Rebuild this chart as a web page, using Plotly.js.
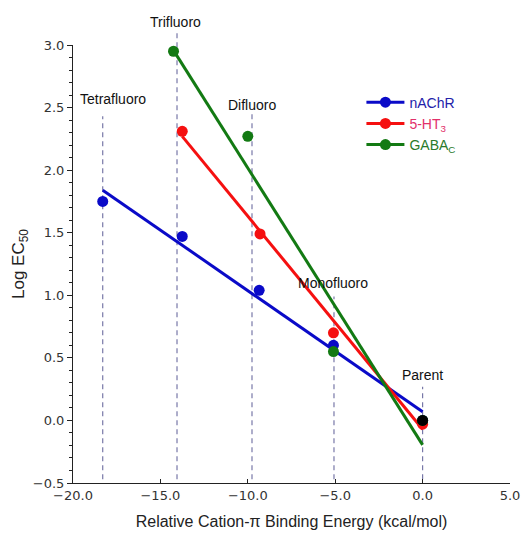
<!DOCTYPE html>
<html>
<head>
<meta charset="utf-8">
<script src="https://cdn.plot.ly/plotly-3.0.1.min.js"></script>
<style>html,body{margin:0;padding:0;background:#fff;}#chart{width:524px;height:535px;}</style>
</head>
<body>
<div id="chart"></div>
<script>
// ---- data ----
const nachrX = [-18.3, -13.75, -9.35, -5.1, 0];
const nachrY = [1.75, 1.47, 1.04, 0.60, 0.0];
const ht3X = [-13.75, -9.3, -5.1, 0];
const ht3Y = [2.31, 1.49, 0.70, -0.03];
const gabaX = [-14.25, -10.0, -5.1, 0];
const gabaY = [2.95, 2.27, 0.55, 0.0];
const parentX = [0];
const parentY = [0];

const nachrFitX = [-18.3, 0];
const nachrFitY = [1.84, 0.07];
const ht3FitX = [-13.75, 0];
const ht3FitY = [2.27, -0.07];
const gabaFitX = [-14.15, 0];
const gabaFitY = [2.935, -0.195];

const guideNames = ['Tetrafluoro', 'Trifluoro', 'Difluoro', 'Monofluoro', 'Parent'];
const guideX = [-18.3, -14.05, -9.76, -5.07, 0];
const guideTop = [2.43, 3.12, 2.46, 0.99, 0.27];
const guideBottom = -0.47;
const labelX = [-17.73, -14.16, -9.78, -5.1, 0.02];
const labelY = [2.57, 3.185, 2.52, 1.10, 0.363];

const xRange = [-20, 5];
const yRange = [-0.5, 3.0];

const BLUE = '#0a0ac8', RED = '#f51010', GREEN = '#137a13';
const FONT = 'Liberation Sans, Arial, sans-serif';

function toPaper(v) { return (v - yRange[0]) / (yRange[1] - yRange[0]); }

const traces = [];
function fit(x, y, c) {
  traces.push({x: x, y: y, mode: 'lines', line: {color: c, width: 3}, showlegend: false, hoverinfo: 'skip'});
}
function pts(x, y, c) {
  traces.push({x: x, y: y, mode: 'markers', marker: {color: c, size: 11}, showlegend: false, cliponaxis: false});
}
function leg(name, c) {
  traces.push({x: [null], y: [null], mode: 'lines+markers', name: name,
    line: {color: c, width: 3}, marker: {color: c, size: 11}});
}
fit(nachrFitX, nachrFitY, BLUE);
fit(ht3FitX, ht3FitY, RED);
fit(gabaFitX, gabaFitY, GREEN);
pts(nachrX, nachrY, BLUE);
pts(ht3X, ht3Y, RED);
pts(gabaX, gabaY, GREEN);
pts(parentX, parentY, '#000000');
leg('<span style="color:#2222aa">nAChR</span>', BLUE);
leg('<span style="color:#e2306a">5-HT<sub>3</sub></span>', RED);
leg('<span style="color:#2a7a2a">GABA<sub>C</sub></span>', GREEN);

const shapes = guideX.map((gx, i) => ({
  type: 'line', xref: 'x', yref: 'paper', x0: gx, x1: gx,
  y0: toPaper(guideBottom), y1: toPaper(guideTop[i]),
  line: {color: '#7878a8', width: 1.2, dash: '5px,4px'}, layer: 'below'
}));

const annotations = guideNames.map((n, i) => ({
  x: labelX[i], y: toPaper(labelY[i]), xref: 'x', yref: 'paper', text: n, showarrow: false,
  xanchor: 'center', yanchor: 'middle', font: {family: FONT, size: 14, color: '#111'}
}));

const layout = {
  width: 524, height: 535,
  margin: {l: 73, r: 14, t: 45, b: 52},
  paper_bgcolor: '#fff', plot_bgcolor: '#fff',
  showlegend: true,
  legend: {x: 0.66, y: 0.905, xanchor: 'left', yanchor: 'top', bgcolor: 'rgba(0,0,0,0)',
    font: {family: FONT, size: 14}, itemwidth: 38, tracegroupgap: 0},
  xaxis: {
    range: xRange, showgrid: false, zeroline: false, showline: true, linecolor: '#222', linewidth: 1,
    ticks: 'inside', ticklen: 4, tickcolor: '#222', dtick: 5, tick0: 0, tickformat: '.1f',
    tickfont: {family: 'DejaVu Sans, sans-serif', size: 13, color: '#333'},
    title: {text: 'Relative Cation-π Binding Energy (kcal/mol)', font: {family: FONT, size: 16, color: '#222'}, standoff: 14}
  },
  yaxis: {
    range: yRange, showgrid: false, zeroline: false, showline: true, linecolor: '#222', linewidth: 1,
    ticks: 'outside', ticklen: 5, tickcolor: '#222', dtick: 0.5, tick0: 0, tickformat: '.1f',
    tickfont: {family: 'DejaVu Sans, sans-serif', size: 13, color: '#333'},
    minor: {dtick: 0.1, ticks: 'outside', ticklen: 3, tickcolor: '#222'},
    title: {text: 'Log EC<sub>50</sub>', font: {family: FONT, size: 17, color: '#222'}, standoff: 3}
  },
  shapes: shapes,
  annotations: annotations
};

Plotly.newPlot('chart', traces, layout, {displayModeBar: false, staticPlot: true});
</script>
</body>
</html>
